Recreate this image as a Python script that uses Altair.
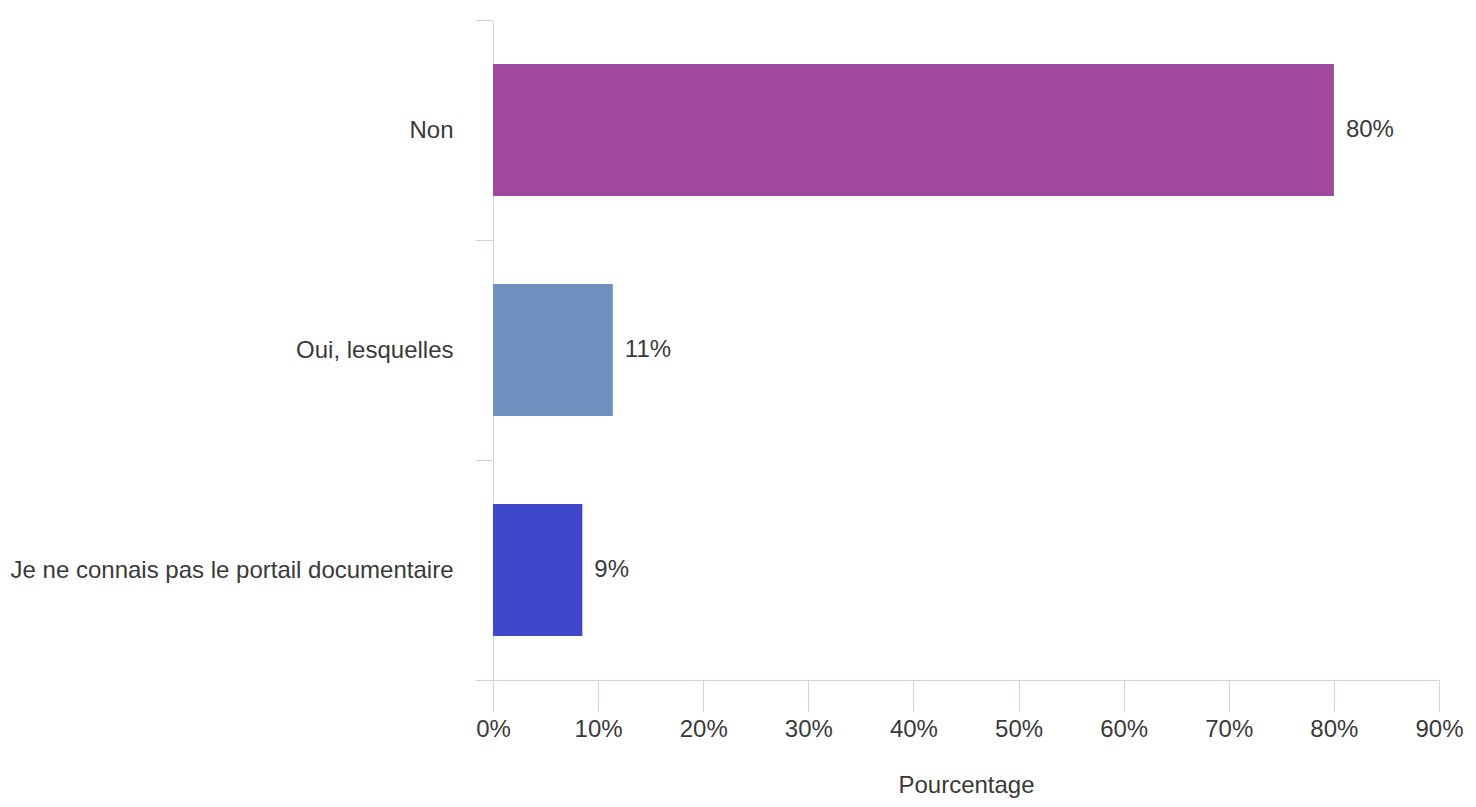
import altair as alt
import pandas as pd

categories = ["Non", "Oui, lesquelles", "Je ne connais pas le portail documentaire"]
values = [80.0, 11.4, 8.5]
labels = ["80%", "11%", "9%"]
colors = ["#A0489E", "#6E91BF", "#3F47CC"]
x_ticks = [0, 10, 20, 30, 40, 50, 60, 70, 80, 90]

df = pd.DataFrame({"cat": categories, "val": values, "lab": labels})

FONT = "Liberation Sans"
FS = 24
TXT = "#3a3a3a"
AX = "#cdd6e4"

y = alt.Y("cat:N", sort=categories, title=None,
          scale=alt.Scale(paddingInner=0, paddingOuter=0),
          axis=alt.Axis(tickBand="extent", tickSize=18, tickColor=AX,
                        domainColor=AX, labelFont=FONT, labelFontSize=FS,
                        labelColor=TXT, labelPadding=22, grid=False,
                        labelLimit=1000))
x = alt.X("val:Q", title="Pourcentage",
          scale=alt.Scale(domain=[0, 90], nice=False),
          axis=alt.Axis(values=x_ticks, labelExpr="datum.value + '%'",
                        labelFlush=False, tickSize=32, tickColor=AX, domainColor=AX,
                        labelFont=FONT, labelFontSize=FS, labelColor=TXT,
                        labelPadding=5, titleFont=FONT, titleFontSize=FS,
                        titleFontWeight="normal", titleColor=TXT,
                        titlePadding=32, grid=False))

bars = alt.Chart(df).mark_bar(height={"band": 0.6}).encode(
    x=x, y=y,
    color=alt.Color("cat:N", scale=alt.Scale(domain=categories, range=colors), legend=None),
)
text = alt.Chart(df).mark_text(align="left", dx=12, font=FONT, fontSize=FS, color=TXT).encode(
    x="val:Q", y=alt.Y("cat:N", sort=categories), text="lab:N"
)

chart = (bars + text).properties(
    width=946, height=660,
    padding={"top": 0, "left": 2, "right": 2, "bottom": 2},
).configure_view(stroke=None)

chart.save("out.html", embed_options={"renderer": "svg", "actions": False})
